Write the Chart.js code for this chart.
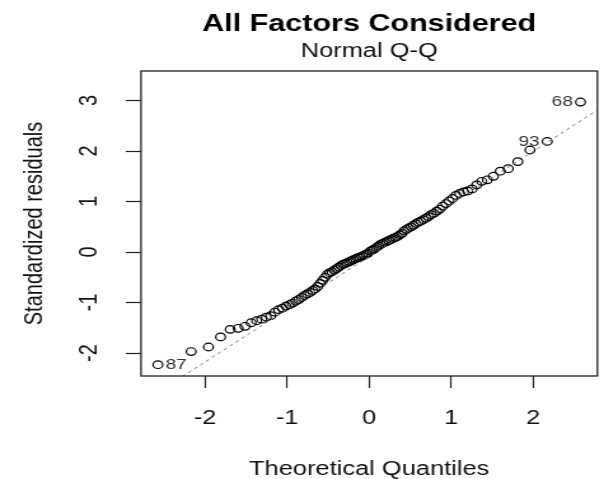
<!DOCTYPE html>
<html><head><meta charset="utf-8">
<script src="https://cdn.jsdelivr.net/npm/chart.js@4.4.1/dist/chart.umd.min.js"></script>
<style>html,body{margin:0;padding:0;background:#fff;overflow:hidden}canvas{display:block}</style>
</head><body>
<canvas id="c" width="475" height="479" style="width:604px;height:479px"></canvas>
<script>
const theoreticalQuantiles = [-2.576, -2.170, -1.960, -1.812, -1.695, -1.598, -1.514, -1.440, -1.372, -1.311,
  -1.254, -1.200, -1.150, -1.103, -1.058, -1.015, -0.974, -0.935, -0.896, -0.860,
  -0.824, -0.789, -0.755, -0.722, -0.690, -0.659, -0.628, -0.598, -0.568, -0.539,
  -0.510, -0.482, -0.454, -0.426, -0.399, -0.372, -0.345, -0.319, -0.292, -0.266,
  -0.240, -0.215, -0.189, -0.164, -0.138, -0.113, -0.088, -0.063, -0.038, -0.013,
  0.013, 0.038, 0.063, 0.088, 0.113, 0.138, 0.164, 0.189, 0.215, 0.240,
  0.266, 0.292, 0.319, 0.345, 0.372, 0.399, 0.426, 0.454, 0.482, 0.510,
  0.539, 0.568, 0.598, 0.628, 0.659, 0.690, 0.722, 0.755, 0.789, 0.824,
  0.860, 0.896, 0.935, 0.974, 1.015, 1.058, 1.103, 1.150, 1.200, 1.254,
  1.311, 1.372, 1.440, 1.514, 1.598, 1.695, 1.812, 1.960, 2.170, 2.576];
const standardizedResiduals = [-2.23, -1.97, -1.88, -1.68, -1.53, -1.51, -1.47, -1.40, -1.36, -1.33,
  -1.29, -1.26, -1.19, -1.14, -1.11, -1.07, -1.04, -1.01, -0.97, -0.94,
  -0.90, -0.86, -0.83, -0.80, -0.76, -0.73, -0.68, -0.62, -0.56, -0.50,
  -0.44, -0.41, -0.39, -0.36, -0.33, -0.30, -0.27, -0.24, -0.23, -0.21,
  -0.19, -0.17, -0.15, -0.13, -0.11, -0.10, -0.08, -0.06, -0.04, -0.02,
  0.02, 0.04, 0.06, 0.09, 0.12, 0.15, 0.17, 0.19, 0.21, 0.23,
  0.25, 0.27, 0.29, 0.31, 0.34, 0.37, 0.42, 0.45, 0.48, 0.50,
  0.53, 0.56, 0.59, 0.61, 0.64, 0.67, 0.70, 0.74, 0.77, 0.81,
  0.85, 0.91, 0.96, 1.01, 1.06, 1.12, 1.16, 1.19, 1.21, 1.25,
  1.33, 1.40, 1.43, 1.50, 1.60, 1.65, 1.79, 2.02, 2.19, 2.97];
const idLabels = ['87', '93', '68'];
const idIndex = [0, 98, 99];
const qqLineX = [-2.782, 2.782];
const qqLineY = [-2.99, 2.81];
const xRange = [-2.782, 2.782];
const yRange = [-2.454, 3.584];
const mainTitle = 'All Factors Considered';
const caption = 'Normal Q-Q';
const xLabel = 'Theoretical Quantiles';
const yLabel = 'Standardized residuals';

const FONT = "'Liberation Sans', Arial, Helvetica, sans-serif";

const rPlot = {
  id: 'rPlot',
  beforeDraw(c) {
    const ctx = c.ctx;
    ctx.save(); ctx.fillStyle = '#fff'; ctx.fillRect(0, 0, c.width, c.height); ctx.restore();
  },
  afterDraw(c) {
    const {ctx, chartArea: a, scales: {x, y}} = c;
    ctx.save();
    ctx.strokeStyle = '#222'; ctx.lineWidth = 1.3;
    ctx.strokeRect(a.left, a.top, a.right - a.left, a.bottom - a.top);
    const cx = (a.left + a.right) / 2;
    ctx.fillStyle = '#000'; ctx.textAlign = 'center'; ctx.textBaseline = 'alphabetic';
    ctx.font = 'bold 24px ' + FONT; ctx.fillText(mainTitle, cx, 31);
    ctx.font = '20px ' + FONT; ctx.fillStyle = '#111'; ctx.fillText(caption, cx, 57);
    ctx.textBaseline = 'middle';
    y.ticks.forEach(t => {
      const py = y.getPixelForValue(t.value);
      ctx.save(); ctx.translate(70.8, py); ctx.rotate(-Math.PI / 2);
      ctx.fillText(t.label, 0, 0); ctx.restore();
    });
    ctx.font = '15px ' + FONT; ctx.fillStyle = '#333';
    idIndex.forEach((k, j) => {
      const px = x.getPixelForValue(theoreticalQuantiles[k]);
      const py = y.getPixelForValue(standardizedResiduals[k]);
      const right = theoreticalQuantiles[k] < 0;
      ctx.textAlign = right ? 'left' : 'right';
      ctx.fillText(idLabels[j], px + (right ? 6 : -6), py);
    });
    ctx.restore();
  }
};

new Chart(document.getElementById('c'), {
  type: 'scatter',
  data: { datasets: [
    { label: 'qqline', type: 'line', data: qqLineX.map((v, i) => ({x: v, y: qqLineY[i]})),
      borderColor: '#7a7a7a', borderWidth: 1, borderDash: [3, 3], pointRadius: 0, fill: false, order: 0 },
    { label: 'residuals', data: theoreticalQuantiles.map((v, i) => ({x: v, y: standardizedResiduals[i]})),
      pointStyle: 'circle', pointRadius: 3.8, pointBorderWidth: 1.2, borderColor: '#000',
      backgroundColor: 'rgba(0,0,0,0)', order: 1 }
  ]},
  options: {
    responsive: false, animation: false, devicePixelRatio: 1,
    layout: { padding: { top: 71, right: 4.7, left: 0, bottom: 0 } },
    plugins: { legend: { display: false }, tooltip: { enabled: false } },
    scales: {
      x: {
        type: 'linear', position: 'bottom', min: xRange[0], max: xRange[1],
        afterFit(s) { s.height = 103; },
        ticks: { stepSize: 1, includeBounds: false, color: '#111', font: { family: FONT, size: 20 }, padding: 18, maxRotation: 0 },
        grid: { drawOnChartArea: false, drawTicks: true, tickLength: 12, tickColor: '#222', tickWidth: 1.2 },
        border: { display: false },
        title: { display: true, text: xLabel, color: '#111', font: { family: FONT, size: 20 }, padding: { top: 0, bottom: -2 } }
      },
      y: {
        type: 'linear', position: 'left', min: yRange[0], max: yRange[1],
        afterFit(s) { s.width = 110.9; },
        ticks: { stepSize: 1, includeBounds: false, display: false },
        grid: { drawOnChartArea: false, drawTicks: true, tickLength: 12, tickColor: '#222', tickWidth: 1.2 },
        border: { display: false },
        title: { display: true, text: yLabel, color: '#111', font: { family: FONT, size: 20 }, padding: { top: 15.5, bottom: 0 } }
      }
    }
  },
  plugins: [rPlot]
});
</script>
</body></html>
